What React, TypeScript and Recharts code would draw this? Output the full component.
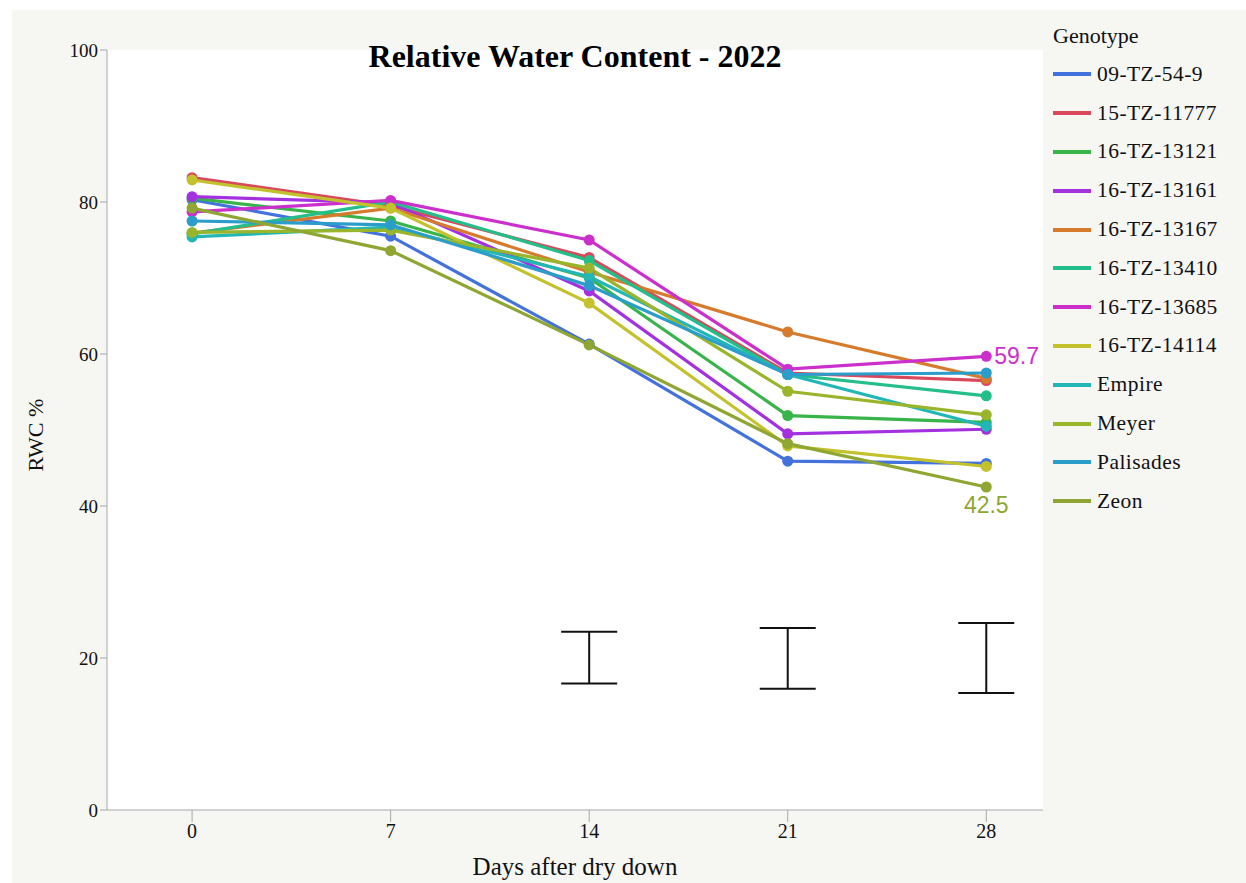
import {
  ComposedChart,
  Line,
  Scatter,
  ErrorBar,
  XAxis,
  YAxis,
  CartesianGrid,
  LabelList,
} from "recharts";

const days = [0, 7, 14, 21, 28];

const genotypes = [
  "09-TZ-54-9",
  "15-TZ-11777",
  "16-TZ-13121",
  "16-TZ-13161",
  "16-TZ-13167",
  "16-TZ-13410",
  "16-TZ-13685",
  "16-TZ-14114",
  "Empire",
  "Meyer",
  "Palisades",
  "Zeon",
];

const colors = [
  "#4472dc",
  "#d9485b",
  "#39b44a",
  "#a431e0",
  "#d67b2e",
  "#24be8b",
  "#cc30cc",
  "#c4c22c",
  "#22b6b6",
  "#98b52b",
  "#2b9dcb",
  "#8fa633",
];

// RWC % per genotype, one value per day
const tz54 = [80.3, 75.5, 61.3, 45.9, 45.6];
const tz11777 = [83.2, 79.5, 72.7, 57.5, 56.5];
const tz13121 = [80.5, 77.5, 70.0, 51.9, 51.0];
const tz13161 = [80.7, 79.9, 68.3, 49.5, 50.1];
const tz13167 = [75.9, 79.2, 70.8, 62.9, 56.8];
const tz13410 = [75.8, 80.0, 72.3, 57.3, 54.5];
const tz13685 = [78.7, 80.2, 75.0, 58.0, 59.7];
const tz14114 = [82.9, 79.2, 66.7, 47.9, 45.2];
const empire = [75.4, 76.7, 70.2, 57.3, 50.5];
const meyer = [76.0, 76.3, 71.3, 55.1, 52.0];
const palisades = [77.5, 77.0, 69.0, 57.3, 57.5];
const zeon = [79.2, 73.6, 61.2, 48.2, 42.5];

const series = [
  tz54, tz11777, tz13121, tz13161, tz13167, tz13410,
  tz13685, tz14114, empire, meyer, palisades, zeon,
];

// LSD bars: centre and half length
const lsdDays = [14, 21, 28];
const lsdMid = [20.05, 19.95, 20.0];
const lsdHalf = [3.4, 4.0, 4.6];

const rows = days.map((d, i) => {
  const row: Record<string, number> = { day: d };
  genotypes.forEach((g, k) => {
    row[g] = series[k][i];
  });
  return row;
});

const lsdRows = lsdDays.map((d, i) => ({ day: d, mid: lsdMid[i], half: lsdHalf[i] }));

const serif = "'Liberation Serif', 'Times New Roman', serif";
const sans = "'Liberation Sans', Arial, sans-serif";

const lastLabel = (color: string, below: boolean) => (props: any) => {
  const { x, y, value, index } = props;
  if (index !== days.length - 1) return null;
  return below ? (
    <text x={x} y={y + 26} textAnchor="middle" fill={color} fontSize={23} fontFamily={sans}>
      {value}
    </text>
  ) : (
    <text x={x + 8} y={y + 8} textAnchor="start" fill={color} fontSize={23} fontFamily={sans}>
      {value}
    </text>
  );
};

export default function App() {
  return (
    <div
      style={{
        position: "absolute",
        left: 12,
        top: 10,
        width: 1234,
        height: 873,
        background: "#f6f6f2",
      }}
    >
      <ComposedChart
        width={1234}
        height={873}
        data={rows}
        margin={{ top: 40, right: 203, bottom: 0, left: 0 }}
      >
        <CartesianGrid horizontal={false} vertical={false} fill="#ffffff" />
        <XAxis
          dataKey="day"
          type="number"
          domain={[-3, 30]}
          ticks={days}
          height={73}
          stroke="#a8a8a8"
          tickSize={12}
          tick={{ fill: "#111", fontSize: 20, fontFamily: serif }}
          allowDataOverflow
        />
        <YAxis
          type="number"
          domain={[0, 100]}
          ticks={[0, 20, 40, 60, 80, 100]}
          width={95}
          stroke="#a8a8a8"
          tickSize={7}
          tick={{ fill: "#111", fontSize: 19, fontFamily: serif }}
        />
        {genotypes.map((g, k) => (
          <Line
            key={g}
            dataKey={g}
            type="linear"
            stroke={colors[k]}
            strokeWidth={3.2}
            dot={{ r: 5.5, fill: colors[k], stroke: colors[k], strokeWidth: 0 }}
            activeDot={false}
            isAnimationActive={false}
          >
            {g === "16-TZ-13685" && (
              <LabelList dataKey={g} content={lastLabel(colors[k], false)} />
            )}
            {g === "Zeon" && <LabelList dataKey={g} content={lastLabel(colors[k], true)} />}
          </Line>
        ))}
        <Scatter data={lsdRows} dataKey="mid" shape={() => <g />} isAnimationActive={false}>
          <ErrorBar dataKey="half" direction="y" width={28} stroke="#111" strokeWidth={2} />
        </Scatter>
      </ComposedChart>

      <div
        style={{
          position: "absolute",
          left: 563 - 300,
          width: 600,
          top: 28,
          textAlign: "center",
          fontFamily: serif,
          fontWeight: "bold",
          fontSize: 32,
          color: "#000",
        }}
      >
        Relative Water Content - 2022
      </div>

      <div
        style={{
          position: "absolute",
          left: 24 - 100,
          top: 426 - 14,
          width: 200,
          textAlign: "center",
          transform: "rotate(-90deg)",
          fontFamily: serif,
          fontSize: 22,
          color: "#111",
        }}
      >
        RWC %
      </div>

      <div
        style={{
          position: "absolute",
          left: 563 - 200,
          top: 843,
          width: 400,
          textAlign: "center",
          fontFamily: serif,
          fontSize: 25,
          color: "#111",
        }}
      >
        Days after dry down
      </div>

      <div
        style={{
          position: "absolute",
          left: 1041,
          top: 13,
          fontFamily: serif,
          color: "#111",
        }}
      >
        <div style={{ fontSize: 22, height: 27 }}>Genotype</div>
        {genotypes.map((g, k) => (
          <div
            key={g}
            style={{ display: "flex", alignItems: "center", height: 38.8, marginTop: k === 0 ? 5 : 0 }}
          >
            <div style={{ width: 38, height: 4, background: colors[k], marginRight: 6 }} />
            <span style={{ fontSize: 21.5, letterSpacing: 0.45 }}>{g}</span>
          </div>
        ))}
      </div>
    </div>
  );
}
